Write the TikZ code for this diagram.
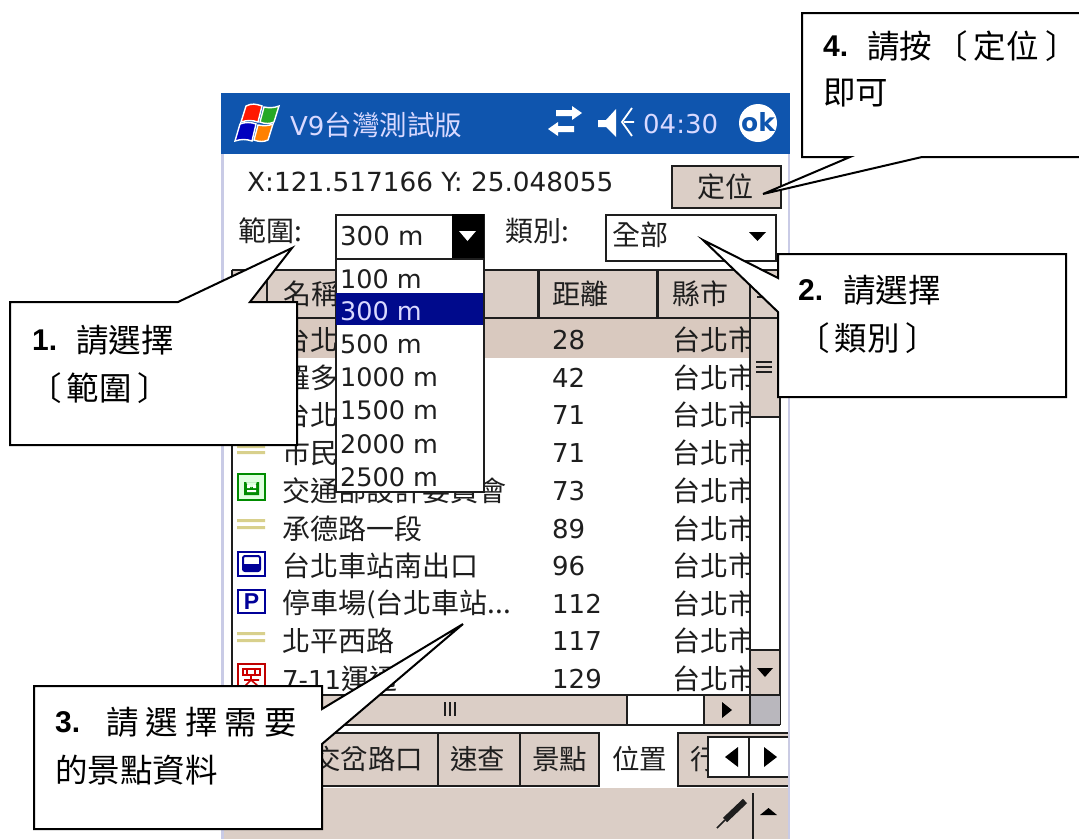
\documentclass[tikz,border=0pt]{standalone}
\usepackage{fontspec}
\setmainfont{Noto Sans CJK TC}
\newfontfamily\numfont{Liberation Sans}
\newfontfamily\scrlat{DejaVu Sans}
\definecolor{tan}{HTML}{DBCEC6}
\definecolor{seltan}{HTML}{D9C9BF}
\definecolor{barblue}{HTML}{0F55AE}
\definecolor{navy}{HTML}{000A8C}
\definecolor{edge}{HTML}{C9CBE6}
\definecolor{ink}{HTML}{1E1E1E}
\definecolor{road}{HTML}{D8D08C}
\definecolor{corner}{HTML}{B9B7BD}
\tikzset{
  x=1pt,y=-1pt,
  txt/.style={inner sep=0pt,anchor=west,text=ink,font=\fontsize{28}{28}\selectfont},
  lat/.style={inner sep=0pt,anchor=west,text=ink,font=\fontsize{26}{26}\selectfont\scrlat},
  opt/.style={inner sep=0pt,anchor=west,text=ink,font=\fontsize{25.5}{26}\selectfont\scrlat},
  ctxt/.style={inner sep=0pt,anchor=west,text=black,font=\fontsize{32.5}{33}\selectfont},
  cnum/.style={inner sep=0pt,anchor=west,text=black,font=\fontsize{30}{30}\selectfont\numfont\bfseries},
  callout/.style={draw=black,fill=white,line width=2pt,line join=miter},
  rule/.style={draw=ink,line width=2pt},
}
\begin{document}
\begin{tikzpicture}
\useasboundingbox (0,0) rectangle (1079,839);
\fill[white] (0,0) rectangle (1079,839);
% screen frame
\fill[edge] (221,93) rectangle (790,839);
\fill[white] (224,94) rectangle (788,839);
% title bar
\fill[barblue] (221,93) rectangle (790,154);
% flag
\begin{scope}[line width=1.4pt]
\filldraw[fill=red!80!orange,draw=white] (246,106) .. controls (252,103) and (256,104) .. (262,106) -- (258,122) .. controls (252,120) and (247,120) .. (241,122) -- cycle;
\filldraw[fill=green!60!black!85!white,draw=white] (264,107) .. controls (269,108) and (274,108) .. (279,106) -- (274,122) .. controls (270,124) and (265,124) .. (260,122) -- cycle;
\filldraw[fill=blue!75!black,draw=white] (240,124) .. controls (245,122) and (251,122) .. (256,124) -- (252,141) .. controls (246,139) and (241,139) .. (235,141) -- cycle;
\filldraw[fill=orange,draw=white] (258,125) .. controls (264,126) and (268,126) .. (273,124) -- (268,140) .. controls (264,142) and (259,142) .. (254,140) -- cycle;
\end{scope}
\node[lat,text=white!85!blue] (ttl) at (290,125) {V9\fontsize{27.5}{26}\selectfont\rmfamily 台灣測試版};
% sync icon
\fill[white] (582,113) -- (572,106) -- (572,110) -- (556,110) -- (556,116) -- (572,116) -- (572,120) -- cycle;
\fill[white] (548,129) -- (558,122) -- (558,126) -- (574,126) -- (574,132) -- (558,132) -- (558,136) -- cycle;
% speaker icon
\fill[white] (598,120) -- (606,120) -- (616,109) -- (616,137) -- (606,127) -- (598,127) -- cycle;
\draw[white,line width=1.8pt] (632,108) -- (622,122) -- (632,136) (624,122) -- (634,122);
\node[lat,text=white!85!blue] (clk) at (643,124) {04:30};
% ok
\fill[white] (758,123) circle (19);
\node[inner sep=0pt,text=barblue,font=\fontsize{25}{25}\selectfont\scrlat\bfseries] (okb) at (758,122) {ok};
% coordinates line
\node[lat,font=\fontsize{26.3}{26}\selectfont\scrlat] (xy) at (247,182) {X:121.517166 Y: 25.048055};
\node[inner sep=0pt,fill=tan,draw=ink,line width=2pt,minimum width=109pt,minimum height=42pt,anchor=north west] (btn) at (671,165) {};
\node[txt,anchor=center] (btnt) at (725,187) {定位};
% combos
\node[txt] (lab1) at (238,231) {範圍:};
\node[inner sep=0pt,fill=white,draw=ink,line width=2pt,minimum width=148pt,minimum height=44pt,anchor=north west] (cb1) at (335,214) {};
\node[lat] (cb1t) at (340,236) {300 m};
\fill[black] (452,214) rectangle (484,259);
\fill[white] (459,231) -- (476,231) -- (467.5,241) -- cycle;
\node[txt] (lab2) at (505,231) {類別:};
\node[inner sep=0pt,fill=white,draw=ink,line width=2pt,minimum width=170pt,minimum height=46pt,anchor=north west] (cb2) at (605,214) {};
\node[txt] (cb2t) at (612,235) {全部};
\fill[black] (749,232) -- (766,232) -- (757.5,241) -- cycle;
% table
\fill[white] (232,270) rectangle (780,695);
\fill[tan] (232,270) rectangle (780,318);
\fill[seltan] (232,318) rectangle (750,358);
\draw[rule] (232,270) -- (780,270) (232,318) -- (780,318);
\draw[rule] (232,270) -- (232,695);
\draw[rule] (267,270) -- (267,318) (750,270) -- (750,695) (780,270) -- (780,725);
\draw[draw=ink,line width=3pt] (538,270) -- (538,318) (657,270) -- (657,318);
\node[txt] (h1) at (283,294) {名稱};
\node[txt] (h2) at (552,294) {距離};
\node[txt] (h3) at (672,294) {縣市};
\draw[ink,line width=2pt] (757,297) -- (772,297);
% rows
\begin{scope}
\clip (232,318) rectangle (750,695);
\node[txt] (n1) at (282,340) {台北};
\node[txt] (n2) at (282,378) {羅多};
\node[txt] (n3) at (282,415) {台北};
\node[txt] (n4) at (282,453) {市民};
\node[txt] (n5) at (282,491) {交通部設計委員會};
\node[txt] (n6) at (282,529) {承德路一段};
\node[txt] (n7) at (282,566) {台北車站南出口};
\node[txt] (n8) at (282,604) {停車場(台北車站...};
\node[txt] (n9) at (282,641) {北平西路};
\node[txt] (n10) at (282,679) {\fontsize{26}{26}\selectfont\scrlat 7-11\fontsize{28}{28}\selectfont\rmfamily 運通};
\foreach \nm/\yy/\vv in {d1/340/28,d2/378/42,d3/415/71,d4/453/71,d5/491/73,d6/529/89,d7/566/96,d8/604/112,d9/641/117,d10/679/129}{
  \node[lat] (\nm) at (552,\yy) {\vv};
}
\foreach \nm/\yy in {c1/340,c2/378,c3/415,c4/453,c5/491,c6/529,c7/566,c8/604,c9/641,c10/679}{
  \node[txt] (\nm) at (672,\yy) {台北市};
}
\end{scope}
% row icons
\fill[road] (237,445) rectangle (265,448) (237,451) rectangle (265,454);
\fill[road] (237,519) rectangle (265,522) (237,526) rectangle (265,529);
\fill[road] (237,632) rectangle (265,635) (237,639) rectangle (265,642);
\draw[green!55!black,line width=2pt,fill=green!12] (238,474) rectangle (265,500);
\fill[green!55!black] (244,495) rectangle (259,482) (246,482) arc[start angle=180,end angle=0,radius=5.5];
\fill[white] (247,485) rectangle (250,488) (253,485) rectangle (256,488) (247,490) rectangle (256,492);
\draw[blue!60!black,line width=2pt,fill=white] (238,552) rectangle (265,576);
\draw[blue!60!black,line width=2pt,rounded corners=2pt] (243,556) rectangle (260,571);
\fill[blue!60!black] (243,564) rectangle (260,571);
\draw[blue!60!black,line width=2pt,fill=white] (238,590) rectangle (265,613);
\node[inner sep=0pt,text=blue!60!black,font=\fontsize{23}{23}\selectfont\numfont\bfseries] (pic) at (251.5,601.5) {P};
\draw[red!75!black,line width=2pt,fill=white] (238,664) rectangle (265,694);
\draw[red!80!black,line width=1.6pt] (243,669) rectangle (260,675) (247,669) -- (247,675) (255,669) -- (255,675) (251,675) -- (251,680) (244,680) -- (259,680) (251,680) -- (245,686) (251,680) -- (258,686);
% vertical scrollbar
\fill[tan] (751,319) rectangle (779,417);
\draw[rule] (750,417) -- (780,417);
\draw[ink,line width=1.3pt] (756,362) -- (772,362) (756,367) -- (772,367) (756,372) -- (772,372);
\fill[tan] (751,650) rectangle (779,694);
\draw[rule] (750,650) -- (780,650);
\fill[black] (757,668) -- (773,668) -- (765,677) -- cycle;
% horizontal scrollbar
\fill[tan] (232,695) rectangle (627,725);
\fill[white] (627,695) rectangle (704,725);
\fill[tan] (704,695) rectangle (750,725);
\fill[corner] (750,695) rectangle (780,725);
\draw[rule] (232,695) -- (780,695) (232,725) -- (780,725);
\draw[rule] (627,695) -- (627,725) (704,695) -- (704,725) (750,695) -- (750,725);
\draw[ink,line width=1.3pt] (445,702) -- (445,716) (450,702) -- (450,716) (455,702) -- (455,716);
\fill[black] (722,702) -- (732,710) -- (722,718) -- cycle;
% tabs
\fill[tan] (224,733) rectangle (599,786) (678,733) rectangle (788,786);
\draw[rule] (224,733) -- (599,733) -- (599,787) (678,787) -- (678,733) -- (788,733);
\draw[rule] (438,733) -- (438,787) (520,733) -- (520,787);
\draw[rule] (224,786) -- (599,786) (678,786) -- (788,786);
\node[txt,font=\fontsize{27.5}{28}\selectfont] (t1) at (313,759) {交岔路口};
\node[txt,font=\fontsize{27.5}{28}\selectfont] (t2) at (450,759) {速查};
\node[txt,font=\fontsize{27.5}{28}\selectfont] (t3) at (532,759) {景點};
\node[txt,font=\fontsize{27.5}{28}\selectfont] (t4) at (612,759) {位置};
\node[txt,font=\fontsize{27.5}{28}\selectfont] (t5) at (690,759) {行};
% tab arrows
\fill[white] (708,737) rectangle (788,777);
\draw[rule] (788,737) -- (708,737) -- (708,777) -- (788,777) (749,737) -- (749,777);
\fill[black] (738,747) -- (725,757) -- (738,767) -- cycle;
\fill[black] (764,747) -- (777,757) -- (764,767) -- cycle;
% toolbar
\fill[tan] (224,788) rectangle (788,839);
\draw[draw=ink,line width=1.6pt] (753,793) -- (753,839);
\fill[black] (760,815) -- (777,815) -- (768.5,808) -- cycle;
\draw[ink,line width=6pt] (745,801) -- (725,820);
\draw[ink,line width=1.5pt] (725,820) -- (717,828);
% drop-down
\node[inner sep=0pt,fill=white,draw=ink,line width=2pt,minimum width=148pt,minimum height=233pt,anchor=north west] (dd) at (335,258) {};
\fill[navy] (336,293) rectangle (483,325);
\node[opt] (o1) at (340,279) {100 m};
\node[opt,text=white!85!blue] (o2) at (340,311) {300 m};
\node[opt] (o3) at (340,344) {500 m};
\node[opt] (o4) at (340,377) {1000 m};
\node[opt] (o5) at (340,410) {1500 m};
\node[opt] (o6) at (340,444) {2000 m};
\node[opt] (o7) at (340,477) {2500 m};
% callouts
\coordinate (tip1) at (292,248);
\coordinate (tip2) at (703,240);
\coordinate (tip3) at (463,624);
\coordinate (tip4) at (763,194);
\draw[callout] (10,302) -- (178,302) -- (tip1) -- (250,302) -- (297,302) -- (297,445) -- (10,445) -- cycle;
\draw[callout] (778,254) -- (1066,254) -- (1066,397) -- (778,397) -- (778,312) -- (tip2) -- (778,278) -- cycle;
\draw[callout] (34,686) -- (322,686) -- (322,709) -- (tip3) -- (322,744) -- (322,829) -- (34,829) -- cycle;
\draw[callout] (802,13) -- (1085,13) -- (1085,157) -- (922,157) -- (tip4) -- (850,157) -- (802,157) -- cycle;
% callout text
\node[cnum] (c1a) at (32,340) {1.};
\node[ctxt] (c1b) at (76,340) {請選擇};
\node[ctxt] (c1c) at (29,388) {〔\hspace{5pt}範圍\hspace{6pt}〕};
\node[cnum] (c2a) at (798,290) {2.};
\node[ctxt] (c2b) at (843,290) {請選擇};
\node[ctxt] (c2c) at (797,338) {〔\hspace{5pt}類別\hspace{6pt}〕};
\node[cnum] (c3a) at (55,722) {3.};
\node[ctxt] (c3b) at (106,722) {請\hspace{7pt}選\hspace{7pt}擇\hspace{7pt}需\hspace{7pt}要};
\node[ctxt] (c3c) at (55,770) {的景點資料};
\node[cnum] (c4a) at (823,46) {4.};
\node[ctxt] (c4b) at (867,46) {請按};
\node[ctxt] (c4c) at (935,46) {〔\hspace{6pt}定位\hspace{7pt}〕};
\node[ctxt] (c4d) at (823,93) {即可};
\end{tikzpicture}
\end{document}
